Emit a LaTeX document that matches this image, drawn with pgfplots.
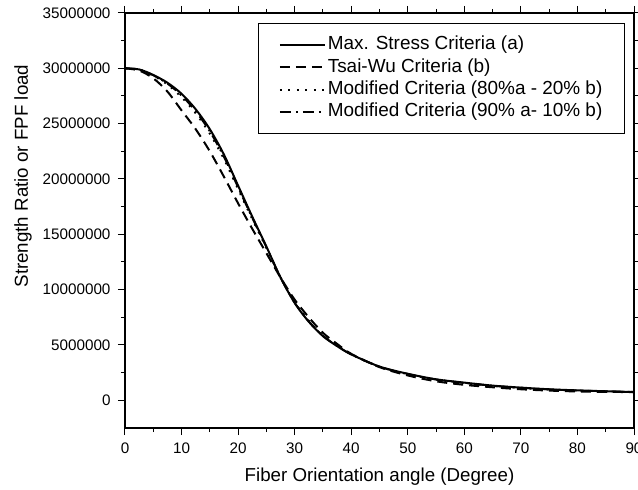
\documentclass[border=0pt]{standalone}
\usepackage{fontspec}
\setmainfont{Liberation Sans}
\usepackage{pgfplots}
\usepackage{pgfplotstable}
\pgfplotsset{compat=1.18}
\usetikzlibrary{calc}

\pgfplotstableread{
x a b c d
0 30000000 30000000 30000000 30000000
2.5 29900000 29800000 29880000 29890000
5 29400000 29100000 29340000 29370000
7.5 28700000 27900000 28540000 28620000
10 27700000 26200000 27400000 27550000
12.5 26300000 24500000 25940000 26120000
15 24500000 22500000 24100000 24300000
17.5 22200000 20200000 21800000 22000000
20 19400000 17800000 19080000 19240000
22.5 16600000 15500000 16380000 16490000
25 13900000 13300000 13780000 13840000
27.5 11100000 11100000 11100000 11100000
30 8800000 9100000 8860000 8830000
32.5 7100000 7500000 7180000 7140000
35 5800000 6100000 5860000 5830000
37.5 4900000 5100000 4940000 4920000
40 4150000 4200000 4160000 4155000
45 3050000 3000000 3040000 3045000
50 2400000 2250000 2370000 2385000
55 1900000 1720000 1864000 1882000
60 1600000 1400000 1560000 1580000
65 1330000 1180000 1300000 1315000
70 1150000 1000000 1120000 1135000
75 1000000 880000 976000 988000
80 900000 800000 880000 890000
85 820000 760000 808000 814000
90 750000 750000 750000 750000
}\data

\begin{document}
\begin{tikzpicture}
\begin{axis}[
  name=ax,
  scale only axis,
  width=509bp, height=415bp,
  xmin=0, xmax=90,
  ymin=-2500000, ymax=35000000,
  xtick={0,10,20,30,40,50,60,70,80,90},
  minor x tick num=1,
  ytick={0,5000000,10000000,15000000,20000000,25000000,30000000,35000000},
  minor y tick num=1,
  tick align=outside,
  xtick pos=both, ytick pos=both,
  xticklabel pos=lower, yticklabel pos=left,
  major tick length=7bp, minor tick length=4bp,
  every tick/.style={black, line width=1bp},
  axis line style={line width=1.2bp},
  scaled y ticks=false,
  /pgf/number format/assume math mode=true,
  yticklabel style={/pgf/number format/fixed, /pgf/number format/1000 sep={}, font=\fontsize{15.3}{18}\selectfont, xshift=-4bp},
  xticklabel style={font=\fontsize{15.3}{18}\selectfont, yshift=-4bp},
  xlabel={Fiber Orientation angle (Degree)},
  ylabel={Strength Ratio or FPF load},
  xlabel style={at={(axis description cs:0.5,-0.118)}, anchor=center, font=\fontsize{18.8}{22}\selectfont},
  ylabel style={at={(axis description cs:-0.2004,0.607)}, anchor=center, font=\fontsize{18.8}{22}\selectfont},
  legend image code/.code={\draw[#1] (0bp,0bp) -- (45bp,0bp);},
  legend cell align=left,
  legend style={at={(axis description cs:0.982,0.976)}, anchor=north east,
    draw=black, line width=0.9bp, fill=white,
    font=\fontsize{19}{22}\selectfont,
    inner xsep=20bp, inner ysep=10.5bp, column sep=0pt, row sep=0pt,
    nodes={inner sep=2bp, text height=14bp, text depth=4.3bp}},
]
\addplot[black, line width=2bp, smooth] table[x=x, y=a] {\data};
\addlegendentry{Max. Stress Criteria (a)}
\addplot[black, line width=2bp, smooth, dash pattern=on 10bp off 6bp] table[x=x, y=b] {\data};
\addlegendentry{Tsai-Wu Criteria (b)}
\addplot[black, line width=2bp, smooth, dash pattern=on 1.8bp off 6.7bp] table[x=x, y=c] {\data};
\addlegendentry{Modified Criteria (80\%a - 20\% b)}
\addplot[black, line width=1.9bp, smooth, dash pattern=on 11bp off 5bp on 2bp off 5bp] table[x=x, y=d] {\data};
\addlegendentry{Modified Criteria (90\% a- 10\% b)}
\end{axis}
\pgfresetboundingbox
\path[use as bounding box] ($(ax.south west)+(-125bp,-62bp)$) rectangle ($(ax.north east)+(4bp,13bp)$);
\end{tikzpicture}
\end{document}
